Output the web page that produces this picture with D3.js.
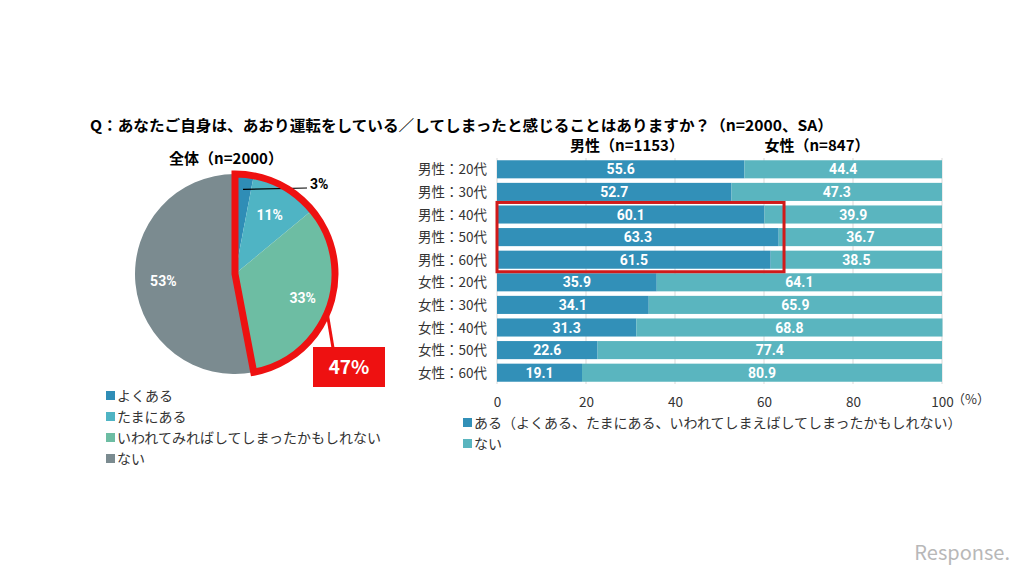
<!DOCTYPE html>
<html>
<head>
<meta charset="utf-8">
<script src="https://cdn.jsdelivr.net/npm/d3@7"></script>
<style>
  body { margin: 0; background: #fff; }
  text { font-family: "Noto Sans CJK JP", sans-serif; }
  .num { font-family: "Liberation Sans Narrow", "Roboto", sans-serif; font-weight: bold; }
</style>
</head>
<body>
<div id="chart"></div>
<script>
// pie data
const pieLabels = ['よくある', 'たまにある', 'いわれてみればしてしまったかもしれない', 'ない'];
const pieValues = [3, 11, 33, 53];
const pieColors = ['#2f8db6', '#4fb4c4', '#6dbda3', '#7b8b90'];

// bar data
const groups = ['男性：20代', '男性：30代', '男性：40代', '男性：50代', '男性：60代',
                '女性：20代', '女性：30代', '女性：40代', '女性：50代', '女性：60代'];
const aruValues = [55.6, 52.7, 60.1, 63.3, 61.5, 35.9, 34.1, 31.3, 22.6, 19.1];
const naiValues = [44.4, 47.3, 39.9, 36.7, 38.5, 64.1, 65.9, 68.8, 77.4, 80.9];
const barSeries = ['ある（よくある、たまにある、いわれてしまえばしてしまったかもしれない）', 'ない'];
const barColors = ['#3290b8', '#5ab5bf'];
const xTicks = [0, 20, 40, 60, 80, 100];

const W = 1024, H = 575;
const svg = d3.select('#chart').append('svg')
    .attr('width', W)
    .attr('height', H);

svg.append('text')
    .attr('x', 90).attr('y', 131)
    .attr('font-size', 15).attr('font-weight', 'bold')
    .attr('textLength', 743).attr('lengthAdjust', 'spacingAndGlyphs')
    .text('Q：あなたご自身は、あおり運転をしている／してしまったと感じることはありますか？（n=2000、SA）');

// ---- pie ----
const cx = 235, cy = 274, r = 100;
svg.append('text')
    .attr('x', 226).attr('y', 164)
    .attr('text-anchor', 'middle')
    .attr('font-size', 15).attr('font-weight', 'bold')
    .text('全体（n=2000）');

const pie = d3.pie().sort(null).value(d => d);
const arcs = pie(pieValues);
const arc = d3.arc().innerRadius(0).outerRadius(r);
const gPie = svg.append('g').attr('transform', `translate(${cx},${cy})`);

gPie.selectAll('path.slice')
    .data(arcs)
    .enter().append('path')
    .attr('class', 'slice')
    .attr('d', arc)
    .attr('fill', (d, i) => pieColors[i]);

// labels inside slices
const labelPos = [null, 0.68, 0.72, 0.72];
arcs.forEach((d, i) => {
    if (!labelPos[i]) return;
    const a = d3.arc().innerRadius(r * labelPos[i]).outerRadius(r * labelPos[i]);
    const c = a.centroid(d);
    gPie.append('text')
        .attr('class', 'num')
        .attr('x', c[0]).attr('y', c[1] + 5)
        .attr('text-anchor', 'middle')
        .attr('font-size', 14).attr('fill', '#fff')
        .text(pieValues[i] + '%');
});

// 3% callout
const c3 = d3.arc().innerRadius(r * 0.85).outerRadius(r * 0.85).centroid(arcs[0]);
gPie.append('line')
    .attr('x1', c3[0]).attr('y1', c3[1])
    .attr('x2', 72).attr('y2', -86)
    .attr('stroke', '#000').attr('stroke-width', 1.2);
svg.append('text')
    .attr('class', 'num')
    .attr('x', cx + 75).attr('y', 189)
    .attr('font-size', 14)
    .text(pieValues[0] + '%');

// red outline for the "ある" total
const aruTotal = d3.sum(pieValues.slice(0, 3));
const total = d3.sum(pieValues);
const redArc = d3.arc().innerRadius(0).outerRadius(r)
    .startAngle(0).endAngle(2 * Math.PI * aruTotal / total);
gPie.append('path')
    .attr('d', redArc())
    .attr('fill', 'none')
    .attr('stroke', '#ee1111')
    .attr('stroke-width', 7)
    .attr('stroke-linejoin', 'miter');

gPie.append('line')
    .attr('x1', 92).attr('y1', 38)
    .attr('x2', 98).attr('y2', 74)
    .attr('stroke', '#ee1111').attr('stroke-width', 3);
svg.append('rect')
    .attr('x', 313).attr('y', 347)
    .attr('width', 72).attr('height', 40)
    .attr('fill', '#ee1111');
svg.append('text')
    .attr('x', 349).attr('y', 374)
    .attr('text-anchor', 'middle')
    .attr('font-size', 19).attr('font-weight', 'bold')
    .attr('font-family', 'Liberation Sans, sans-serif')
    .attr('fill', '#fff')
    .text(aruTotal + '%');

// pie legend
const pieLeg = svg.append('g').attr('transform', 'translate(106,389)');
pieLabels.forEach((lab, i) => {
    pieLeg.append('rect')
        .attr('x', 0).attr('y', i * 21 + 2)
        .attr('width', 9).attr('height', 9)
        .attr('fill', pieColors[i]);
    pieLeg.append('text')
        .attr('x', 11).attr('y', i * 21 + 12)
        .attr('font-size', 14).attr('fill', '#333')
        .text(lab);
});

// ---- stacked bars ----
const x = d3.scaleLinear().domain([0, 100]).range([497, 942]);
const y = d3.scaleBand().domain(groups).range([158, 384]).paddingInner(0.2).paddingOuter(0.1);

svg.append('text')
    .attr('x', 627).attr('y', 151)
    .attr('text-anchor', 'middle')
    .attr('font-size', 15).attr('font-weight', 'bold')
    .text('男性（n=1153）');
svg.append('text')
    .attr('x', 817).attr('y', 151)
    .attr('text-anchor', 'middle')
    .attr('font-size', 15).attr('font-weight', 'bold')
    .text('女性（n=847）');

// grid
svg.append('g').selectAll('line')
    .data(xTicks)
    .enter().append('line')
    .attr('x1', d => x(d)).attr('x2', d => x(d))
    .attr('y1', 158).attr('y2', 384)
    .attr('stroke', '#d9d9d9').attr('stroke-width', 1);

const rows = groups.map((g, i) => ({ g: g, a: aruValues[i], n: naiValues[i] }));
const gBars = svg.append('g');
gBars.selectAll('rect.aru')
    .data(rows)
    .enter().append('rect')
    .attr('x', x(0))
    .attr('y', d => y(d.g))
    .attr('width', d => x(d.a) - x(0))
    .attr('height', y.bandwidth())
    .attr('fill', barColors[0]);
gBars.selectAll('rect.nai')
    .data(rows)
    .enter().append('rect')
    .attr('x', d => x(d.a))
    .attr('y', d => y(d.g))
    .attr('width', d => x(d.a + d.n) - x(d.a))
    .attr('height', y.bandwidth())
    .attr('fill', barColors[1]);

gBars.selectAll('text.va')
    .data(rows)
    .enter().append('text')
    .attr('class', 'num')
    .attr('x', d => (x(0) + x(d.a)) / 2)
    .attr('y', d => y(d.g) + y.bandwidth() / 2 + 5)
    .attr('text-anchor', 'middle')
    .attr('font-size', 14).attr('fill', '#fff')
    .text(d => d.a.toFixed(1));
gBars.selectAll('text.vn')
    .data(rows)
    .enter().append('text')
    .attr('class', 'num')
    .attr('x', d => (x(d.a) + x(d.a + d.n)) / 2)
    .attr('y', d => y(d.g) + y.bandwidth() / 2 + 5)
    .attr('text-anchor', 'middle')
    .attr('font-size', 14).attr('fill', '#fff')
    .text(d => d.n.toFixed(1));

// category labels
svg.append('g').selectAll('text')
    .data(groups)
    .enter().append('text')
    .attr('x', 487)
    .attr('y', d => y(d) + y.bandwidth() / 2 + 5)
    .attr('text-anchor', 'end')
    .attr('font-size', 13.5).attr('fill', '#333')
    .text(d => d);

// x axis labels
const xAxis = d3.axisBottom(x).tickValues(xTicks).tickSize(0).tickPadding(8);
const gx = svg.append('g')
    .attr('transform', 'translate(0,389)')
    .call(xAxis);
gx.select('.domain').remove();
gx.selectAll('text')
    .attr('font-size', 13.5)
    .attr('font-family', 'Liberation Sans, sans-serif')
    .attr('fill', '#333');
svg.append('text')
    .attr('x', 952).attr('y', 404)
    .attr('font-size', 13).attr('fill', '#333')
    .text('（%）');

// highlight box
svg.append('rect')
    .attr('x', x(0)).attr('y', y('男性：40代') - 3)
    .attr('width', x(64.5) - x(0))
    .attr('height', y('男性：60代') + y.bandwidth() - y('男性：40代') + 6)
    .attr('fill', 'none')
    .attr('stroke', '#d01a1a')
    .attr('stroke-width', 3);

// bar legend
const barLeg = svg.append('g').attr('transform', 'translate(463,416)');
barSeries.forEach((lab, i) => {
    barLeg.append('rect')
        .attr('x', 0).attr('y', i * 21 + 2)
        .attr('width', 9).attr('height', 9)
        .attr('fill', barColors[i]);
    barLeg.append('text')
        .attr('x', 11).attr('y', i * 21 + 12)
        .attr('font-size', 14).attr('fill', '#333')
        .text(lab);
});

// watermark
svg.append('text')
    .attr('x', 1010).attr('y', 560)
    .attr('text-anchor', 'end')
    .attr('font-size', 20)
    .attr('font-family', 'Liberation Sans, sans-serif')
    .attr('fill', '#b8b8b8')
    .text('Response.');
</script>
</body>
</html>
